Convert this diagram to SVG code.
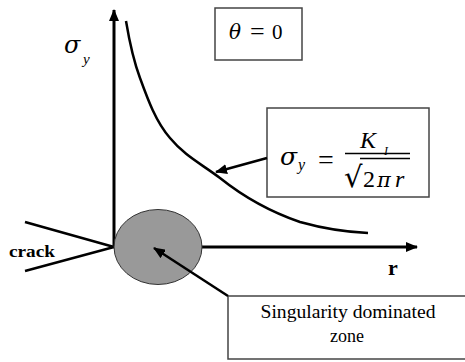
<svg xmlns="http://www.w3.org/2000/svg" width="465" height="362" viewBox="0 0 465 362">
<style>
.box{fill:#fff;stroke:#444;stroke-width:1.5}
.ax{stroke:#000;stroke-width:3;fill:none}
.ln{stroke:#000;stroke-width:2.5;fill:none}
.ser{font-family:"Liberation Serif","Times New Roman",serif;fill:#000}
.gr{font-family:"DejaVu Serif","Liberation Serif",serif;fill:#000}
.it{font-style:italic}
</style>
<defs>
<marker id="ah" markerUnits="userSpaceOnUse" markerWidth="12" markerHeight="10" refX="11" refY="5" orient="auto">
<path d="M0,0 L12,5 L0,10 z" fill="#000"/>
</marker>
</defs>
<rect width="465" height="362" fill="#fff"/>
<g id="crack">
<line class="ln" x1="25" y1="222" x2="114" y2="247"/>
<line class="ln" x1="25" y1="271" x2="114" y2="247"/>
<text class="ser" x="9" y="257" font-size="17" font-weight="bold" textLength="46" lengthAdjust="spacingAndGlyphs">crack</text>
</g>
<g id="axes">
<line class="ax" x1="114" y1="247" x2="114" y2="10" marker-end="url(#ah)"/>
<line class="ax" x1="114" y1="247" x2="417" y2="247" marker-end="url(#ah)"/>
<text class="gr it" x="64" y="53" font-size="24">σ</text>
<text class="ser it" x="83" y="64" font-size="15">y</text>
<text class="ser" x="388" y="275" font-size="22" font-weight="bold">r</text>
</g>
<g id="curve">
<path class="ln" stroke-width="2" d="M126,21 C130,45 134,62 140,78 C148,100 156,122 170,138 C185,156 200,163 220,178 C240,194 265,210 300,222 C325,229 345,232 368,233"/>
</g>
<g id="singularity-zone">
<ellipse cx="158" cy="247" rx="44" ry="37.5" fill="#999" stroke="#333" stroke-width="1"/>
</g>
<g id="theta-box">
<rect class="box" x="215" y="8" width="87" height="52"/>
<text class="gr it" x="229" y="39" font-size="20">θ</text>
<text class="ser" x="250" y="40" font-size="26">=</text>
<text class="ser" x="272" y="39" font-size="21">0</text>
</g>
<g id="formula-box">
<rect class="box" x="267" y="108" width="162" height="89"/>
<text class="gr it" x="280" y="165" font-size="25">σ</text>
<text class="ser it" x="298" y="170" font-size="16">y</text>
<text class="ser" x="318" y="169" font-size="28">=</text>
<line x1="345" y1="153.5" x2="410" y2="153.5" stroke="#000" stroke-width="1.5"/>
<text class="ser it" x="360" y="148" font-size="24">K</text>
<text class="ser it" x="384" y="155" font-size="12">I</text>
<text class="gr" x="344" y="187" font-size="29">√</text>
<line x1="360" y1="158.5" x2="410" y2="158.5" stroke="#000" stroke-width="1.5"/>
<text class="ser" x="363" y="187" font-size="24">2</text>
<text class="gr it" x="377" y="187" font-size="21">π</text>
<text class="ser it" x="395" y="187" font-size="24">r</text>
</g>
<g id="singularity-box">
<rect class="box" x="228" y="296" width="240" height="63"/>
<text class="ser" x="348" y="318" font-size="18" text-anchor="middle" textLength="175" lengthAdjust="spacingAndGlyphs">Singularity dominated</text>
<text class="ser" x="347" y="342" font-size="18" text-anchor="middle">zone</text>
</g>
<g id="connectors">
<line class="ln" stroke-width="3" x1="267" y1="158" x2="216" y2="172" marker-end="url(#ah)"/>
<line class="ln" stroke-width="3" x1="228" y1="296" x2="154" y2="248" marker-end="url(#ah)"/>
</g>
</svg>
